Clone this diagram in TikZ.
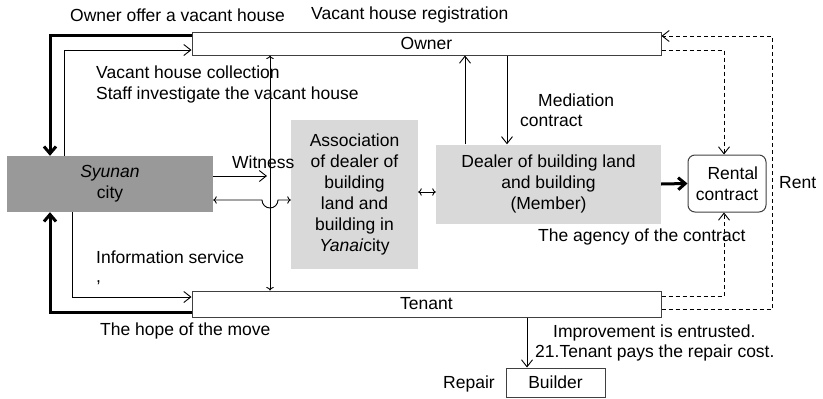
\documentclass[tikz,border=0pt]{standalone}
\usepackage{fontspec}
\setmainfont{Liberation Sans}
\usetikzlibrary{arrows.meta}
\definecolor{darkblock}{HTML}{999999}
\definecolor{lightblock}{HTML}{D9D9D9}
\definecolor{edge}{HTML}{404040}
\begin{document}
\begin{tikzpicture}[x=1pt, y=-1pt, font=\fontsize{17.5}{21}\selectfont,
		wide/.style={draw=edge, line width=1pt, minimum width=469pt},
		block/.style={fill=#1, align=center, inner sep=0pt},
		lbl/.style={anchor=west, inner sep=0pt},
		flow/.style={line width=0.9pt, -{Straight Barb[length=7pt, width=11pt]}},
		heavy/.style={line width=3pt, -{Straight Barb[length=7pt, width=12pt]}},
		dashline/.style={flow, dash pattern=on 4pt off 3pt}]
		\useasboundingbox (0,0) rectangle (823,399);
		\node (owner) at (426.5,43.5) [wide, minimum height=23pt] {Owner};
		\node (tenant) at (426.5,304) [wide, minimum height=26pt] {Tenant};
		\node (syunan) at (110,184) [block=darkblock, minimum width=206pt, minimum height=56pt] {\textit{Syunan}\\city};
		\node (assoc) at (354.5,194.5) [block=lightblock, minimum width=127pt, minimum height=149pt] {Association\\of dealer of\\building\\land and\\building in\\\textit{Yanai}city};
		\node (dealer) at (548.5,184) [block=lightblock, minimum width=225pt, minimum height=79pt] {Dealer of building land\\and building\\(Member)};
		\node (rental) at (727,183.5) [draw=edge, line width=1pt, rounded corners=7pt, align=right, minimum width=78pt, minimum height=57pt, inner sep=3pt] {Rental\\contract};
		\node (builder) at (555.5,382.5) [draw=edge, line width=1pt, minimum width=99pt, minimum height=29pt] {Builder};
		% labels
		\node (offer) at (70,15) [lbl] {Owner offer a vacant house};
		\node (regist) at (311,15) [lbl] {Vacant house registration};
		\node (collect) at (96,84.5) [lbl, align=left] {Vacant house collection\\Staff investigate the vacant house};
		\node (witness) at (232,162) [lbl] {Witness};
		\node (mediat) at (538,100) [lbl] {Mediation};
		\node (mcontr) at (520,121) [lbl] {contract};
		\node (rent) at (779,183) [lbl] {Rent};
		\node (agency) at (538,237) [lbl] {The agency of the contract};
		\node (info) at (96,257) [lbl] {Information service};
		\node (comma) at (96,283) [lbl] {,};
		\node (hope) at (100,331) [lbl] {The hope of the move};
		\node (improve) at (553,333) [lbl] {Improvement is entrusted.};
		\node (pays) at (535,353) [lbl] {21.Tenant pays the repair cost.};
		\node (repair) at (443,384) [lbl] {Repair};
		% city and owner / tenant
		\draw[heavy] (owner.west |- 0,35) -| (syunan.north -| 50,0);
		\draw[flow] (syunan.north -| 64,0) |- (owner.west |- 0,50);
		\draw[heavy] (tenant.west |- 0,312) -| (syunan.south -| 50,0);
		\draw[flow] (syunan.south -| 72,0) |- (tenant.west |- 0,297);
		\draw[flow, <->] (owner.south -| 270,0) -- (tenant.north -| 270,0);
		\coordinate (wit) at (267,176);
		\draw[flow] (syunan.east |- 0,176) -- (wit);
		\draw[flow, <->] (syunan.east |- 0,200) -- (262,200) arc [start angle=180, end angle=0, radius=8] -- (assoc.west |- 0,200);
		% dealers
		\draw[flow, <->] (assoc.east |- 0,192) -- (dealer.west |- 0,192);
		\draw[flow] (dealer.north -| 465,0) -- (owner.south -| 465,0);
		\draw[flow] (owner.south -| 507,0) -- (dealer.north -| 507,0);
		\draw[heavy] (dealer.east) -- (rental.west);
		% contract
		\draw[dashline] (owner.east |- 0,50) -| (rental.north -| 724,0);
		\draw[dashline] (tenant.east |- 0,296) -| (rental.south -| 724,0);
		\draw[dashline] (tenant.east |- 0,309) -| (772,36) -- (owner.east |- 0,36);
		\draw[flow] (tenant.south -| 527,0) -- (builder.north -| 527,0);
	\end{tikzpicture}
\end{document}
